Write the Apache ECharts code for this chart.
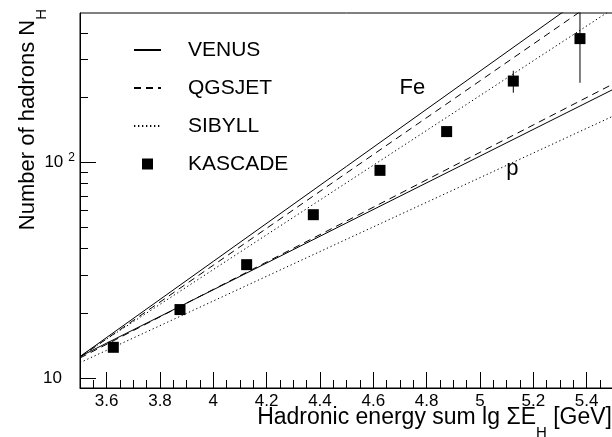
<!DOCTYPE html>
<html><head><meta charset="utf-8">
<script src="https://cdn.jsdelivr.net/npm/echarts@6/dist/echarts.min.js"></script>
<style>html,body{margin:0;padding:0;background:#fff}#c{width:612px;height:437px}</style>
</head><body><div id="c"></div>
<script>
// ---- data ----
const lineX     = [3.5, 4.0, 4.5, 5.0, 5.5];
const feVenus   = [12.6, 34.8, 96.1, 265.5, 733];
const feQgsjet  = [12.5, 33.4, 89.5, 239.3, 640];
const feSibyll  = [12.6, 31.9, 80.7, 204.4, 518];
const pVenus    = [12.6, 25.7, 52.5, 107.1, 218.6];
const pQgsjet   = [12.4, 25.8, 53.6, 111.5, 231.8];
const pSibyll   = [11.8, 22.8, 44.1, 85.1, 164.4];
const kascadeX  = [3.625, 3.875, 4.125, 4.375, 4.625, 4.875, 5.125, 5.375];
const kascadeY  = [13.9, 20.8, 33.6, 57.3, 92.0, 139.2, 238.8, 375.8];
const kascadeLo = [null, null, null, null, null, null, 210.9, 234.4];
const kascadeHi = [null, null, null, null, null, null, 266.6, 650];
const xMajorTicks = [3.6, 3.8, 4, 4.2, 4.4, 4.6, 4.8, 5, 5.2, 5.4];
const yMajorTicks = [10, 100];
const yMinorTicks = [20, 30, 40, 50, 60, 70, 80, 90, 200, 300, 400];
const annotations = [{text: 'Fe', x: 4.70, y: 221}, {text: 'p', x: 5.10, y: 93}];
const legendNames = ['VENUS', 'QGSJET', 'SIBYLL', 'KASCADE'];
const xTitle = ['Hadronic energy sum lg ΣE', 'H', ' [GeV]'];
const yTitle = ['Number of hadrons N', 'H'];

const xMinorTicks = [];
for (let i = 71; i <= 109; i++) xMinorTicks.push(+(i * 0.05).toFixed(2));

const FONT = "'Liberation Sans', Arial, Helvetica, sans-serif";
const BLACK = '#000';
const dashed = [7, 5];
const dotted = [1.3, 2.7];

function pts(ys) { return lineX.map((x, i) => [x, ys[i]]); }
function lineSeries(name, ys, type) {
  return {type: 'line', name: name, data: pts(ys), symbol: 'none', silent: true,
    lineStyle: {color: BLACK, width: 1, type: type, opacity: 1}, itemStyle: {color: BLACK}, z: 3};
}

const series = [
  lineSeries('VENUS', feVenus, 'solid'),
  lineSeries('QGSJET', feQgsjet, dashed),
  lineSeries('SIBYLL', feSibyll, dotted),
  lineSeries('VENUS', pVenus, 'solid'),
  lineSeries('QGSJET', pQgsjet, dashed),
  lineSeries('SIBYLL', pSibyll, dotted)
];
kascadeX.forEach((x, i) => {
  if (kascadeLo[i] != null) {
    series.push({type: 'line', name: 'err' + i, data: [[x, kascadeLo[i]], [x, kascadeHi[i]]],
      symbol: 'none', silent: true, lineStyle: {color: BLACK, width: 1, opacity: 1}, z: 4});
  }
});
series.push({type: 'scatter', name: 'KASCADE', data: kascadeX.map((x, i) => [x, kascadeY[i]]),
  symbol: 'rect', symbolSize: 11, itemStyle: {color: BLACK, opacity: 1}, z: 5, silent: true});
series.push({type: 'scatter', name: 'labels', data: annotations.map(a => [a.x, a.y]),
  symbol: 'rect', symbolSize: 1, itemStyle: {color: 'rgba(0,0,0,0)', opacity: 1}, silent: true, z: 6,
  label: {show: true, position: [0, 0], align: 'left', verticalAlign: 'middle', opacity: 1,
    formatter: p => annotations[p.dataIndex].text, fontSize: 22, fontFamily: FONT, color: BLACK}});

function titleRich(size, subSize, drop) {
  return {
    t: {fontSize: size, fontFamily: FONT, fill: BLACK, color: BLACK, verticalAlign: 'top', lineHeight: size},
    s: {fontSize: subSize, fontFamily: FONT, fill: BLACK, color: BLACK, verticalAlign: 'top', padding: [drop, 0, 0, 0], lineHeight: subSize}
  };
}

const hideSym = {color: 'rgba(0,0,0,0)', borderWidth: 0};
const chart = echarts.init(document.getElementById('c'), null, {renderer: 'canvas'});
chart.setOption({
  animation: false,
  backgroundColor: '#fff',
  grid: {left: 80, top: 13, width: 533.3, bottom: 49, show: true, borderColor: BLACK, borderWidth: 1,
    containLabel: false, outerBoundsMode: 'none'},
  legend: {
    data: legendNames.map(n => n === 'KASCADE'
      ? {name: n, icon: 'path://M0,0H10V10H0Z', itemStyle: {color: BLACK, opacity: 1}}
      : {name: n, itemStyle: hideSym}),
    orient: 'vertical', left: 133, top: 38, padding: 0, itemWidth: 27, itemHeight: 11, itemGap: 14,
    selectedMode: false,
    textStyle: {fontSize: 21, fontFamily: FONT, color: BLACK, lineHeight: 24, padding: [0, 0, 0, 22]}
  },
  graphic: [
    {type: 'text', x: 612, y: 406, silent: true,
      style: {text: '{t|' + xTitle[0] + '}{s|' + xTitle[1] + '}{t|' + xTitle[2] + '}',
        align: 'right', verticalAlign: 'top', fill: BLACK, rich: titleRich(23, 15, 19)}},
    {type: 'text', x: 17, y: 9, rotation: Math.PI / 2, silent: true,
      style: {text: '{t|' + yTitle[0] + '}{s|' + yTitle[1] + '}',
        align: 'right', verticalAlign: 'top', fill: BLACK, rich: titleRich(22, 15, 17)}}
  ],
  xAxis: [
    {type: 'value', min: 3.5, max: 5.5, position: 'bottom',
      axisLine: {onZero: false, lineStyle: {color: BLACK, width: 1}},
      splitLine: {show: false},
      axisTick: {inside: true, length: 16, customValues: xMajorTicks, lineStyle: {color: BLACK}},
      axisLabel: {customValues: xMajorTicks, margin: 5, color: BLACK, fontSize: 17, fontFamily: FONT}
    },
    {type: 'value', min: 3.5, max: 5.5, position: 'bottom',
      axisLine: {show: false, onZero: false}, splitLine: {show: false}, axisLabel: {show: false},
      axisTick: {inside: true, length: 8, customValues: xMinorTicks, lineStyle: {color: BLACK}}}
  ],
  yAxis: [
    {type: 'log', logBase: 10, min: 9, max: 494, position: 'left',
      axisLine: {onZero: false, lineStyle: {color: BLACK, width: 1}},
      splitLine: {show: false}, minorTick: {show: false},
      axisTick: {inside: true, length: 16, customValues: yMajorTicks, lineStyle: {color: BLACK}},
      axisLabel: {customValues: yMajorTicks, margin: 5, color: BLACK,
        formatter: v => {
          const e = Math.round(Math.log10(v));
          return e === 1 ? '{b|10}{pad| }' : '{b|10}{sup|' + e + '}';
        },
        rich: {b: {fontSize: 17, fontFamily: FONT, color: BLACK},
               pad: {width: 13, fontSize: 17},
               sup: {fontSize: 12, fontFamily: FONT, color: BLACK, verticalAlign: 'top', padding: [0, 0, 10, 5]}}}
    },
    {type: 'log', logBase: 10, min: 9, max: 494, position: 'left',
      axisLine: {show: false, onZero: false}, splitLine: {show: false}, axisLabel: {show: false},
      axisTick: {inside: true, length: 8, customValues: yMinorTicks, lineStyle: {color: BLACK}}}
  ],
  series: series
});
</script></body></html>
